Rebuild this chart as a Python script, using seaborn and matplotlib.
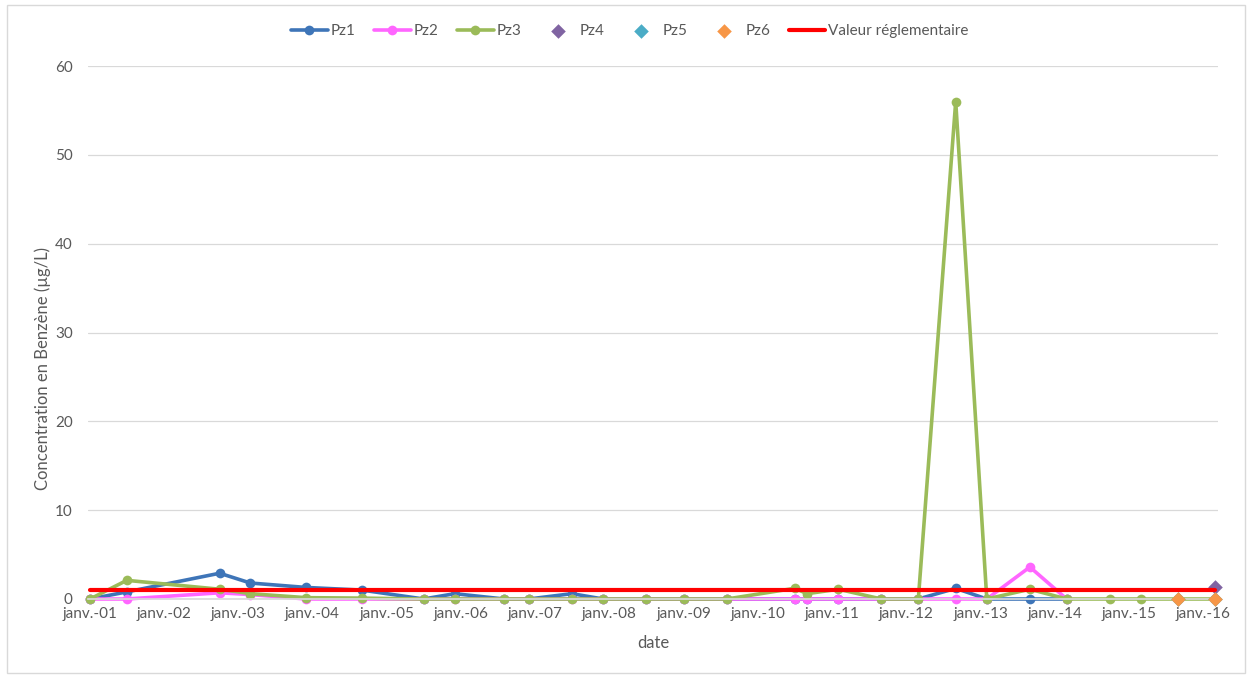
import pandas as pd
import matplotlib.pyplot as plt
import matplotlib.dates as mdates
from matplotlib.ticker import FuncFormatter
from matplotlib.patches import Rectangle
import seaborn as sns

# dates et concentrations (µg/L)
pz1_dates = ['2001-01-01', '2001-07-01', '2002-10-01', '2003-03-01', '2003-12-01', '2004-09-01',
             '2005-07-01', '2005-12-01', '2006-08-01', '2006-12-01', '2007-07-01', '2007-12-01',
             '2008-07-01', '2009-01-01', '2009-08-01', '2010-07-01', '2010-09-01', '2011-02-01',
             '2011-09-01', '2012-03-01', '2012-09-01', '2013-02-01', '2013-09-01', '2014-03-01']
pz1_vals = [0, 0.8, 2.9, 1.8, 1.3, 1.0, 0, 0.6, 0, 0, 0.6, 0,
            0, 0, 0, 0, 0, 0, 0, 0, 1.2, 0, 0, 0]

pz2_dates = pz1_dates
pz2_vals = [0, 0, 0.7, 0.5, 0, 0, 0, 0, 0, 0, 0, 0,
            0, 0, 0, 0, 0, 0, 0, 0, 0, 0, 3.6, 0]

pz3_dates = pz1_dates + ['2014-10-01', '2015-03-01', '2015-09-01', '2016-03-01']
pz3_vals = [0, 2.1, 1.1, 0.6, 0.15, 0.1, 0, 0, 0, 0, 0, 0,
            0, 0, 0, 1.2, 0.6, 1.1, 0, 0, 56, 0, 1.1, 0, 0, 0, 0, 0]

pz4_dates = ['2016-03-01']
pz4_vals = [1.3]
pz5_dates = ['2015-09-01', '2016-03-01']
pz5_vals = [0, 0]
pz6_dates = ['2015-09-01', '2016-03-01']
pz6_vals = [0, 0]

reg_dates = ['2001-01-01', '2016-03-01']
reg_vals = [1, 1]

sns.set_theme(style='white')
plt.rcParams['font.family'] = ['Lato', 'DejaVu Sans']

fig = plt.figure(figsize=(12.52, 6.75), dpi=100)
ax = fig.add_axes([88 / 1252, 1 - 599 / 675, (1218 - 88) / 1252, (599 - 66) / 675])

lines = [(pz1_dates, pz1_vals, '#3E75B8', 'Pz1'),
         (pz2_dates, pz2_vals, '#FF66FF', 'Pz2'),
         (pz3_dates, pz3_vals, '#9BBB59', 'Pz3')]
for d, v, c, lab in lines:
    sns.lineplot(x=pd.to_datetime(d), y=v, ax=ax, color=c, marker='o', markersize=7,
                 markeredgewidth=0, linewidth=2.6, label=lab, errorbar=None, clip_on=False)

diamonds = [(pz4_dates, pz4_vals, '#8064A2', 'Pz4'),
            (pz5_dates, pz5_vals, '#4BACC6', 'Pz5'),
            (pz6_dates, pz6_vals, '#F79646', 'Pz6')]
for d, v, c, lab in diamonds:
    sns.scatterplot(x=pd.to_datetime(d), y=v, ax=ax, color=c, marker='D', s=55,
                    linewidth=0, label=lab, zorder=4, clip_on=False)

sns.lineplot(x=pd.to_datetime(reg_dates), y=reg_vals, ax=ax, color='#FF0000', linewidth=3,
             label='Valeur réglementaire', errorbar=None, zorder=5, clip_on=False)

ax.set_xlim(pd.Timestamp('2000-12-22'), pd.Timestamp('2016-03-15'))
ax.set_ylim(0, 60)
ax.set_yticks(range(0, 61, 10))
ax.xaxis.set_major_locator(mdates.YearLocator())
ax.xaxis.set_major_formatter(FuncFormatter(
    lambda x, pos: 'janv.-%02d' % (mdates.num2date(x).year % 100)))

ax.grid(axis='y', color='#D9D9D9', linewidth=0.9)
ax.set_axisbelow(True)
for s in ['top', 'right', 'left']:
    ax.spines[s].set_visible(False)
ax.spines['bottom'].set_color('#D9D9D9')
ax.tick_params(axis='both', length=0, labelsize=11, labelcolor='#595959')
ax.tick_params(axis='y', pad=11)
ax.tick_params(axis='x', pad=6)

ax.set_xlabel('date', fontsize=12, color='#595959')
ax.set_ylabel('Concentration en Benzène (µg/L)', fontsize=12, color='#595959')
ax.xaxis.set_label_coords(0.5, -0.068)
ax.yaxis.set_label_coords(-0.033, 0.433)

handles, labels = ax.get_legend_handles_labels()
ax.get_legend().remove()
fig.legend(handles, labels, loc='center', bbox_to_anchor=(630 / 1252, 1 - 31 / 675), ncol=7,
           frameon=False, fontsize=11, labelcolor='#595959', handlelength=2.4,
           columnspacing=1.2, handletextpad=0.2)

fig.patches.append(Rectangle((7 / 1252, 2 / 675), 1238 / 1252, 668 / 675, transform=fig.transFigure,
                             fill=False, edgecolor='#D9D9D9', linewidth=1))

fig.savefig('out.png', dpi=100, facecolor='white')
